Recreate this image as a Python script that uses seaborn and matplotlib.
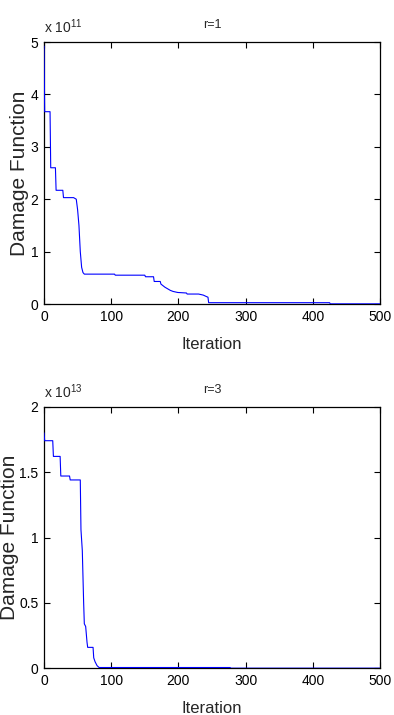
import matplotlib
matplotlib.use("Agg")
import matplotlib.pyplot as plt
import seaborn as sns
import pandas as pd
from matplotlib.ticker import FormatStrFormatter

# ---- data (values in units of 10^exp) ----
iter_r1 = [0, 1, 9, 10, 17, 18, 28, 29, 44, 48, 50, 52, 54, 56, 58, 60, 105, 106, 150, 151,
           163, 164, 173, 174, 177, 180, 184, 188, 192, 199, 212, 213, 230, 237, 242, 244,
           245, 425, 426, 500]
dmg_r1 = [4.92, 3.67, 3.67, 2.6, 2.6, 2.17, 2.17, 2.03, 2.03, 2.0, 1.8, 1.5, 1.0, 0.7, 0.6, 0.57, 0.57, 0.55, 0.55, 0.52,
          0.52, 0.43, 0.43, 0.38, 0.35, 0.32, 0.29, 0.26, 0.24, 0.22, 0.21, 0.19, 0.19, 0.17, 0.14, 0.13,
          0.025, 0.025, 0.003, 0.003]
exp_r1 = 11

iter_r3 = [0, 1, 13, 14, 24, 25, 38, 39, 54, 55, 57, 58, 59, 60, 62, 64, 65, 73, 74, 76,
           79, 82, 277, 278, 500]
dmg_r3 = [1.80, 1.74, 1.74, 1.62, 1.62, 1.47, 1.47, 1.44, 1.44, 1.06, 0.9, 0.7, 0.5, 0.34, 0.32, 0.2, 0.16, 0.16, 0.08, 0.05,
          0.02, 0.006, 0.006, 0.001, 0.001]
exp_r3 = 13

titles = ["r=1", "r=3"]
ylims = [(0, 5), (0, 2)]
yticks = [[0, 1, 2, 3, 4, 5], [0, 0.5, 1, 1.5, 2]]
xticks = [0, 100, 200, 300, 400, 500]

sns.set_style("ticks")
plt.rcParams["font.family"] = ["Liberation Sans", "DejaVu Sans"]
plt.rcParams["mathtext.fontset"] = "custom"
plt.rcParams["mathtext.rm"] = "Liberation Sans"

fig = plt.figure(figsize=(3.94, 7.15), dpi=100)
W, H = 394, 715
boxes = [(44, 42, 380, 304), (44, 406.7, 380, 668.3)]
ylabel_x = [-0.045, -0.074]

series = [(iter_r1, dmg_r1, exp_r1), (iter_r3, dmg_r3, exp_r3)]
for i, ((xs, ys, ex), (l, t, r, b)) in enumerate(zip(series, boxes)):
    ax = fig.add_axes([l / W, 1 - b / H, (r - l) / W, (b - t) / H])
    df = pd.DataFrame({"Iteration": xs, "Damage": ys})
    sns.lineplot(data=df, x="Iteration", y="Damage", ax=ax, sort=False,
                 color="#0000ff", linewidth=0.8, zorder=3)
    ax.set_xlim(0, 500)
    ax.set_ylim(*ylims[i])
    ax.set_xticks(xticks)
    ax.set_yticks(yticks[i])
    ax.yaxis.set_major_formatter(FormatStrFormatter("%g"))
    ax.tick_params(direction="in", length=4, width=0.8, top=True, right=True,
                   labelsize=10, pad=4, colors="black")
    for s in ax.spines.values():
        s.set_visible(True)
        s.set_linewidth(0.9)
        s.set_color("black")
    ax.set_xlabel("Iteration", fontsize=12)
    ax.set_ylabel("Damage Function", fontsize=15)
    ax.xaxis.set_label_coords(0.5, -0.125)
    ax.yaxis.set_label_coords(ylabel_x[i], 0.5)
    ax.set_title(titles[i], fontsize=9, pad=10)
    ax.text(0.0, 1.035, r"x 10$^{%d}$" % ex, transform=ax.transAxes,
            fontsize=10, ha="left", va="baseline")

fig.savefig("out.png", dpi=100)
